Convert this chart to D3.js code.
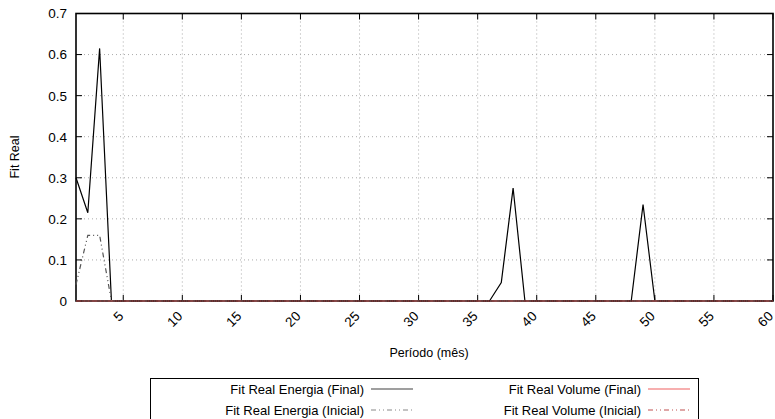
<!DOCTYPE html>
<html><head><meta charset="utf-8">
<script src="https://cdn.jsdelivr.net/npm/d3@7"></script>
<style>body{margin:0;background:#fff}svg{display:block}text{font-family:"Liberation Sans",Arial,Helvetica,sans-serif;}</style>
</head><body><svg id="c" width="775" height="419"></svg>
<script>
const periods = d3.range(1, 61);
const energiaFinal = [0.30,0.215,0.615,0,0,0,0,0,0,0, 0,0,0,0,0,0,0,0,0,0, 0,0,0,0,0,0,0,0,0,0, 0,0,0,0,0,0,0.045,0.275,0,0, 0,0,0,0,0,0,0,0,0.235,0, 0,0,0,0,0,0,0,0,0,0];
const energiaInicial = [0.04,0.16,0.16,0,0,0,0,0,0,0, 0,0,0,0,0,0,0,0,0,0, 0,0,0,0,0,0,0,0,0,0, 0,0,0,0,0,0,0,0,0,0, 0,0,0,0,0,0,0,0,0,0, 0,0,0,0,0,0,0,0,0,0];
const volumeFinal = periods.map(() => 0);
const volumeInicial = periods.map(() => 0);
const xTicks = [5,10,15,20,25,30,35,40,45,50,55,60];
const yTicks = [0,0.1,0.2,0.3,0.4,0.5,0.6,0.7];
const seriesNames = ["Fit Real Energia (Final)","Fit Real Energia (Inicial)","Fit Real Volume (Final)","Fit Real Volume (Inicial)"];

const svg = d3.select("#c");
const L=76, R=773, T=13.5, B=301;
const x = d3.scaleLinear().domain([1,60]).range([L,R]);
const y = d3.scaleLinear().domain([0,0.7]).range([B,T]);

// grid
const g = svg.append("g");
g.selectAll(".gx").data(xTicks.filter(t=>t<60)).enter().append("line")
  .attr("x1",d=>x(d)).attr("x2",d=>x(d)).attr("y1",T).attr("y2",B)
  .attr("stroke","#aaa").attr("stroke-width",1).attr("stroke-dasharray","1,3");
g.selectAll(".gy").data(yTicks.filter(t=>t>0&&t<0.7)).enter().append("line")
  .attr("x1",L).attr("x2",R).attr("y1",d=>y(d)).attr("y2",d=>y(d))
  .attr("stroke","#aaa").attr("stroke-width",1).attr("stroke-dasharray","1,3");

// ticks (inward, mirrored)
const tk = 6;
xTicks.forEach(t=>{
  svg.append("line").attr("x1",x(t)).attr("x2",x(t)).attr("y1",B).attr("y2",B-tk).attr("stroke","#000");
  svg.append("line").attr("x1",x(t)).attr("x2",x(t)).attr("y1",T).attr("y2",T+tk).attr("stroke","#000");
});
yTicks.forEach(t=>{
  svg.append("line").attr("x1",L).attr("x2",L+tk).attr("y1",y(t)).attr("y2",y(t)).attr("stroke","#000");
  svg.append("line").attr("x1",R).attr("x2",R-tk).attr("y1",y(t)).attr("y2",y(t)).attr("stroke","#000");
});

// series
const mk = vals => d3.line().x((d,i)=>x(periods[i])).y(d=>y(d))(vals);
const styles = [
  {vals:energiaFinal, color:"#000", dash:null, w:1.2, op:1},
  {vals:energiaInicial, color:"#555", dash:"5,3,1,3,1,3", w:1.2, op:1},
  {vals:volumeFinal, color:"#f06060", dash:null, w:1.2, op:0.6},
  {vals:volumeInicial, color:"#c05050", dash:"5,3,1,3,1,3", w:1.2, op:0.6}
];

// frame
svg.append("rect").attr("x",L).attr("y",T).attr("width",R-L).attr("height",B-T)
  .attr("fill","none").attr("stroke","#000").attr("stroke-width",1.6);

styles.forEach(s=>{
  svg.append("path").attr("d",mk(s.vals)).attr("fill","none").attr("stroke",s.color)
    .attr("stroke-width",s.w).attr("stroke-dasharray",s.dash).attr("stroke-opacity", s.op);
});

// tick labels
yTicks.forEach(t=>{
  svg.append("text").attr("x",L-9).attr("y",y(t)).attr("dy","0.36em").attr("text-anchor","end")
    .attr("font-size",13.5).text(t===0?"0":d3.format(".1f")(t));
});
xTicks.forEach(t=>{
  svg.append("text").attr("transform",`translate(${x(t)+1},${B+16}) rotate(-45)`)
    .attr("text-anchor","end").attr("font-size",13.5).text(t);
});

svg.append("text").attr("transform",`translate(19,157) rotate(-90)`).attr("text-anchor","middle")
  .attr("font-size",12.5).text("Fit Real");
svg.append("text").attr("x",429).attr("y",357).attr("text-anchor","middle")
  .attr("font-size",12.5).text("Período (mês)");

// legend
svg.append("rect").attr("x",150.5).attr("y",378.5).attr("width",548).attr("height",60)
  .attr("fill","#fff").attr("stroke","#000").attr("stroke-width",1);
const leg = [
  {name:seriesNames[0], tx:364, lx:371, ly:389, s:styles[0]},
  {name:seriesNames[1], tx:364, lx:371, ly:410, s:styles[1]},
  {name:seriesNames[2], tx:641, lx:648, ly:389, s:styles[2]},
  {name:seriesNames[3], tx:641, lx:648, ly:410, s:styles[3]}
];
leg.forEach(l=>{
  svg.append("text").attr("x",l.tx).attr("y",l.ly).attr("dy","0.36em").attr("text-anchor","end").attr("font-size",13).text(l.name);
  svg.append("line").attr("x1",l.lx).attr("x2",l.lx+42).attr("y1",l.ly).attr("y2",l.ly)
    .attr("stroke",l.s.color).attr("stroke-width",1.2).attr("stroke-dasharray",l.s.dash)
    .attr("stroke-opacity", l.s.color==="#000"?0.75:(l.s.color==="#555"?0.7:1));
});
</script></body></html>
